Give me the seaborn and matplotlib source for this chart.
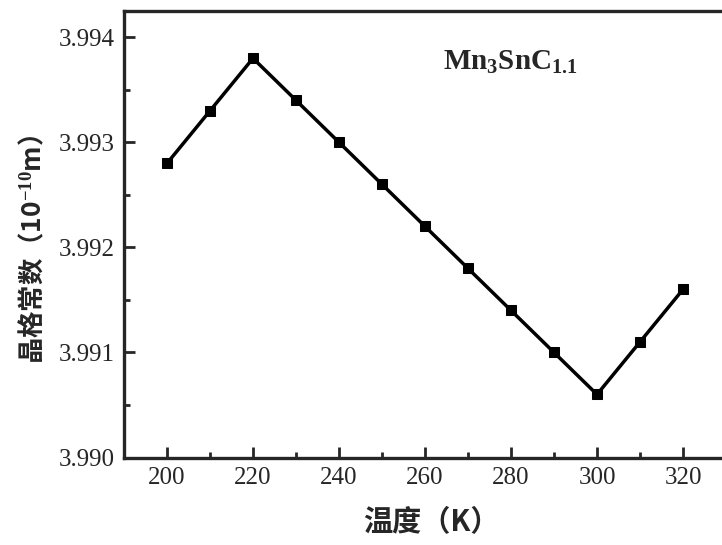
import pandas as pd
import matplotlib.pyplot as plt
import seaborn as sns
from matplotlib.ticker import MultipleLocator, FormatStrFormatter

# data
temperature = [200, 210, 220, 230, 240, 250, 260, 270, 280, 290, 300, 310, 320]
lattice = [3.9928, 3.9933, 3.9938, 3.9934, 3.9930, 3.9926, 3.9922,
           3.9918, 3.9914, 3.9910, 3.9906, 3.9911, 3.9916]
label_x = '温度（K）'
label_y = '晶格常数（10$^{\\mathbf{-10}}$m）'
sample = r'$\mathbf{Mn_3SnC_{1.1}}$'

df = pd.DataFrame({'T': temperature, 'a': lattice})

sns.set_style('ticks')
plt.rcParams['font.family'] = ['Liberation Serif', 'Noto Sans CJK SC']
plt.rcParams['mathtext.fontset'] = 'custom'
plt.rcParams['mathtext.rm'] = 'Liberation Serif'
plt.rcParams['mathtext.bf'] = 'Liberation Serif:bold'
plt.rcParams['mathtext.it'] = 'Liberation Serif:italic'

fig = plt.figure(figsize=(7.22, 5.45), dpi=100)
ax = fig.add_axes([124 / 722, 87.5 / 545, 602 / 722, 446.5 / 545])

sns.lineplot(data=df, x='T', y='a', ax=ax, color='black', linewidth=2.5,
             marker='s', markersize=7.5, markeredgecolor='black')

ax.set_xlim(190, 330)
ax.set_ylim(3.990, 3.99425)
ax.xaxis.set_major_locator(MultipleLocator(20))
ax.xaxis.set_minor_locator(MultipleLocator(10))
ax.yaxis.set_major_locator(MultipleLocator(0.001))
ax.yaxis.set_minor_locator(MultipleLocator(0.0005))
ax.yaxis.set_major_formatter(FormatStrFormatter('%.3f'))
ax.tick_params(which='major', direction='in', length=8, width=2, labelsize=18, pad=7)
ax.tick_params(which='minor', direction='in', length=4.5, width=2)

for s in ax.spines.values():
    s.set_linewidth(2.4)
    s.set_visible(True)

ax.set_xlabel(label_x, fontsize=21, fontweight='bold',
              family=['Noto Sans CJK SC', 'Liberation Serif'])
ax.set_ylabel(label_y, fontsize=19, fontweight='bold',
              family=['Noto Sans CJK SC', 'Liberation Serif'])
ax.xaxis.set_label_coords(0.51, -0.112)
ax.yaxis.set_label_coords(-0.128, 0.465)

ax.text(0.53, 0.885, sample, transform=ax.transAxes, fontsize=21,
        ha='left', va='center')

fig.savefig('out.png', dpi=100)
